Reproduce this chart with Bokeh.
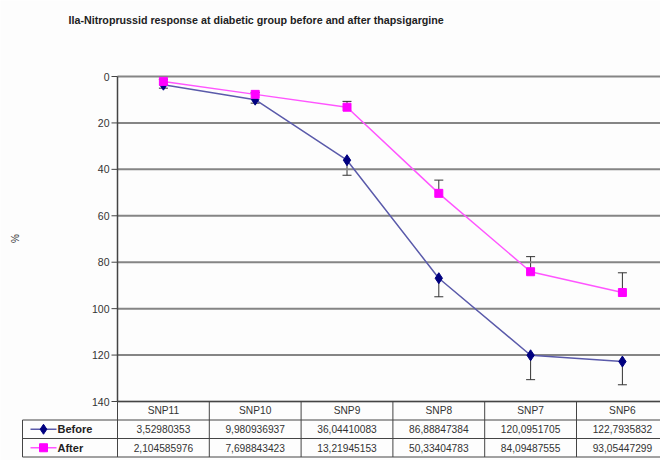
from bokeh.plotting import figure
from bokeh.models import Range1d, Whisker, ColumnDataSource, TeeHead
from bokeh.core.properties import value
from bokeh.embed import file_html
from bokeh.resources import INLINE
import math

title_text = "IIa-Nitroprussid response at diabetic group before and after thapsigargine"
y_label = "%"
categories = ["SNP11", "SNP10", "SNP9", "SNP8", "SNP7", "SNP6"]
before = [3.52980353, 9.980936937, 36.04410083, 86.88847384, 120.0951705, 122.7935832]
after = [2.104585976, 7.698843423, 13.21945153, 50.33404783, 84.09487555, 93.05447299]
before_err = [1.5, 1.5, 6.5, 8.0, 10.5, 10.0]
after_err = [0.8, 0.8, 2.5, 5.7, 6.5, 8.5]
series_names = ["Before", "After"]
y_ticks = [0, 20, 40, 60, 80, 100, 120, 140]

FONT = "Liberation Sans"
BG = "#fdfdfd"
BEFORE_LINE = "#5a5aaa"
BEFORE_MARK = "#000080"
AFTER_LINE = "#ff55ff"
AFTER_MARK = "#ff00ff"
GRID = "#858585"
INK = "#333333"

# ---- layout (page pixels; canvas starts at the page's top-left corner)
W, H = 660, 460
PX0, PY0 = 0, 0
PLOT_L, PLOT_T, PLOT_B = 117, 76, 401      # plot area left / y=0 / y=140
CAT_W = 91.8                                # px per category
Y_MAX = 140
TABLE_L = 22
ROWS = [401, 419.5, 438, 456.5]            # table row boundaries (page px)

ppu_y = (PLOT_B - PLOT_T) / Y_MAX
x_start = -(PLOT_L - PX0) / CAT_W
x_end = (PX0 + W - PLOT_L) / CAT_W
y_top = -(PLOT_T - PY0) / ppu_y
y_bot = (PY0 + H - PLOT_T) / ppu_y

p = figure(width=W, height=H, x_range=Range1d(x_start, x_end), y_range=Range1d(y_bot, y_top),
           output_backend="svg", toolbar_location=None,
           x_axis_location=None, y_axis_location=None,
           min_border=0, background_fill_color=BG, border_fill_color=BG)
p.extra_x_ranges = {"px": Range1d(PX0, PX0 + W)}
p.extra_y_ranges = {"px": Range1d(PY0 + H, PY0)}
p.outline_line_color = None
p.xgrid.visible = False
p.ygrid.visible = False

xs = [i + 0.5 for i in range(len(categories))]
n = len(categories)

# gridlines and y axis
p.segment(x0=[0] * len(y_ticks), y0=y_ticks, x1=[x_end] * len(y_ticks), y1=y_ticks,
          line_color=GRID, line_width=2)
p.segment(x0=[0], y0=[0], x1=[0], y1=[Y_MAX], line_color="#444444", line_width=1.5)
p.segment(x0=[PLOT_L - 6] * len(y_ticks), y0=y_ticks, x1=[PLOT_L] * len(y_ticks), y1=y_ticks,
          x_range_name="px", line_color="#444444", line_width=1)
p.text(x=[PLOT_L - 8] * len(y_ticks), y=y_ticks, text=[str(v) for v in y_ticks], x_range_name="px",
       text_align="right", text_baseline="middle", text_font=value(FONT), text_font_size="10.5px",
       text_color=INK)

# error bars
src = ColumnDataSource(dict(
    x=xs, before=before, after=after,
    b_hi=[b + e for b, e in zip(before, before_err)],
    a_lo=[a - e for a, e in zip(after, after_err)],
))
wb = Whisker(base="x", lower="before", upper="b_hi", source=src, dimension="height",
             line_color=INK, line_width=1, level="underlay",
             upper_head=TeeHead(size=9, line_color=INK, line_width=1), lower_head=None)
wa = Whisker(base="x", lower="a_lo", upper="after", source=src, dimension="height",
             line_color=INK, line_width=1, level="underlay",
             lower_head=TeeHead(size=9, line_color=INK, line_width=1), upper_head=None)
p.add_layout(wb)
p.add_layout(wa)

p.line("x", "before", source=src, line_color=BEFORE_LINE, line_width=1.5)
p.line("x", "after", source=src, line_color=AFTER_LINE, line_width=1.5)
p.scatter("x", "before", source=src, marker="diamond", size=11, color=BEFORE_MARK)
p.scatter("x", "after", source=src, marker="square", size=8, color=AFTER_MARK)

# title and y label
p.text(x=[68], y=[19], text=[title_text], x_range_name="px", y_range_name="px",
       text_align="left", text_baseline="middle", text_font=value(FONT), text_font_size="10.7px",
       text_font_style="bold", text_color="#222222")
p.text(x=[15], y=[238], text=[y_label], x_range_name="px", y_range_name="px", angle=math.pi / 2,
       text_align="center", text_baseline="middle", text_font=value(FONT), text_font_size="10px",
       text_color=INK)

# data table
TBL = "#444444"
bl = x_start + (TABLE_L - PX0) / CAT_W
p.segment(x0=[0, bl, bl, bl], y0=ROWS, x1=[x_end] * 4, y1=ROWS, y_range_name="px",
          line_color=TBL, line_width=1)
v_x = [bl] + list(range(n))
v_y0 = [ROWS[1]] + [ROWS[0]] * n
p.segment(x0=v_x, y0=v_y0, x1=v_x, y1=[ROWS[3]] * len(v_x), y_range_name="px",
          line_color=TBL, line_width=1)

def fmt(v):
    return f"{v:.10g}".replace(".", ",")

mids = [(ROWS[i] + ROWS[i + 1]) / 2 for i in range(3)]
for row_y, texts in zip(mids, [categories, [fmt(v) for v in before], [fmt(v) for v in after]]):
    p.text(x=xs, y=[row_y] * n, text=texts, y_range_name="px", text_align="center",
           text_baseline="middle", text_font=value(FONT), text_font_size="10.2px", text_color=INK)

# row headers with legend samples
p.segment(x0=[30, 30], y0=mids[1:], x1=[56, 56], y1=mids[1:], x_range_name="px", y_range_name="px",
          line_color=[BEFORE_LINE, AFTER_LINE], line_width=1.5)
p.scatter(x=[43], y=[mids[1]], x_range_name="px", y_range_name="px", marker="diamond", size=10,
          color=BEFORE_MARK)
p.scatter(x=[43], y=[mids[2]], x_range_name="px", y_range_name="px", marker="square", size=8,
          color=AFTER_MARK)
p.text(x=[57, 57], y=mids[1:], text=series_names, x_range_name="px", y_range_name="px",
       text_align="left", text_baseline="middle", text_font=value(FONT), text_font_size="11px",
       text_font_style="bold", text_color="#222222")

open("out.html", "w").write(file_html(p, INLINE))
